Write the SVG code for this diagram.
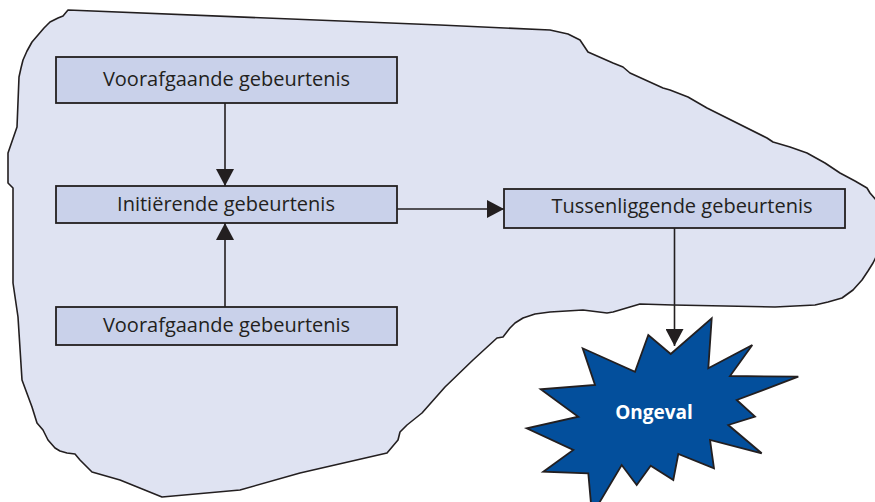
<svg xmlns="http://www.w3.org/2000/svg" width="875" height="502" viewBox="0 0 875 502">
<style>
.box{fill:#c9d1ea;stroke:#231f20;stroke-width:1.8}
.lbl{font-family:"Open Sans","Noto Sans",sans-serif;font-size:20px;fill:#231f20;text-anchor:middle}
.conn{stroke:#231f20;stroke-width:1.6;fill:none}
</style>
<defs>
<marker id="ah" markerUnits="userSpaceOnUse" markerWidth="17" markerHeight="18" refX="17" refY="9" orient="auto">
<path d="M0,0 L17,9 L0,18 Z" fill="#231f20"/>
</marker>
</defs>
<g id="region">
<path d="M68,10 L440,25 L550,30 L568,34 L580,40 L588,52 L613,63 L623,67 L630,73 L663,88 L670,90 L688,97 L707,108 L767,138 L773,142 L790,147 L807,153 L825,163 L840,173 L855,181 L867,188 L870,193 L876,200 L880,230 L876,257 L873,263 L868,271 L862,280 L853,290 L842,298 L828,302 L815,305 L795,306 L775,307 L673,305 L640,304 L613,312 L607,313 L583,310 L550,312 L535,314 L523,318 L515,323 L510,328 L503,337 L497,338 L473,360 L445,387 L422,413 L407,425 L400,432 L398,440 L387,453 L300,473 L240,490 L162,497 L120,480 L92,472 L80,460 L75,454 L67,453 L60,451 L55,448 L48,440 L43,430 L37,423 L32,407 L22,380 L18,317 L13,283 L13,250 L13,188 L8,183 L8,153 L17,127 L19,77 L21,68 L23,60 L27,51 L32,42 L38,35 L44,28 L50,22 L58,18 L63,16 Z" fill="#dfe3f2" stroke="#231f20" stroke-width="1.6" stroke-linejoin="round"/>
</g>
<g id="connectors">
<line class="conn" x1="225" y1="103" x2="225" y2="186" marker-end="url(#ah)"/>
<line class="conn" x1="225" y1="307" x2="225" y2="223" marker-end="url(#ah)"/>
<line class="conn" x1="397" y1="209" x2="504" y2="209" marker-end="url(#ah)"/>
<line class="conn" x1="674.5" y1="228" x2="674.5" y2="346" marker-end="url(#ah)"/>
</g>
<g id="voorafgaande1">
<rect class="box" x="56" y="57" width="341" height="46"/>
<text class="lbl" x="226.5" y="86">Voorafgaande gebeurtenis</text>
</g>
<g id="initierende">
<rect class="box" x="56" y="186" width="341" height="37"/>
<text class="lbl" x="226" y="211">Initiërende gebeurtenis</text>
</g>
<g id="voorafgaande2">
<rect class="box" x="56" y="307" width="341" height="38"/>
<text class="lbl" x="226.5" y="332">Voorafgaande gebeurtenis</text>
</g>
<g id="tussenliggende">
<rect class="box" x="504" y="189" width="341" height="39"/>
<text class="lbl" x="682" y="213">Tussenliggende gebeurtenis</text>
</g>
<g id="ongeval">
<path d="M670.7,354 L711.7,318.3 L708.3,368.3 L752.3,345 L730,376 L798.3,376.7 L736.7,400 L755,416.7 L728.3,425 L761.7,453.3 L710,440 L714,468.3 L678.3,454 L673.3,480 L650.7,465.7 L636.7,485 L621.7,465 L592,515 L588.3,473.3 L543.3,471.7 L573.3,450 L526.7,428.3 L578.3,416.7 L540.7,389.3 L595,385 L582.7,348.3 L635,371.7 L648.3,335 Z" fill="#034f9c" stroke="#231f20" stroke-width="1.8" stroke-linejoin="miter"/>
<text x="654" y="419" font-family="'Open Sans','Noto Sans',sans-serif" font-size="19" font-weight="bold" fill="#ffffff" text-anchor="middle">Ongeval</text>
</g>
</svg>
